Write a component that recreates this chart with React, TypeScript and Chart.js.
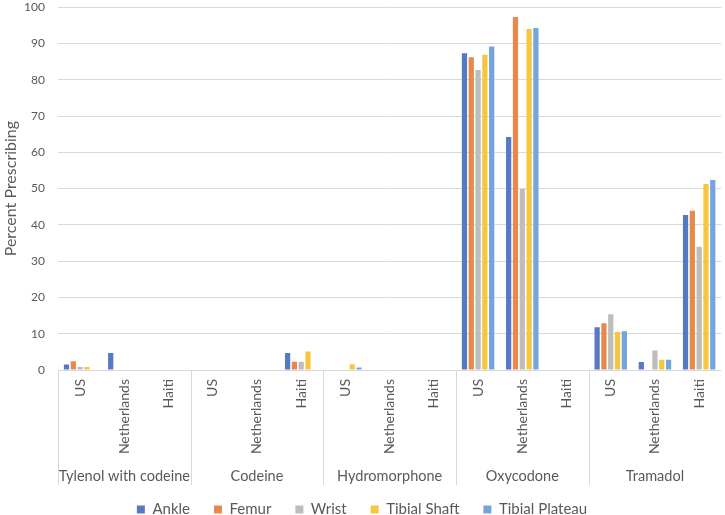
import React, { useEffect, useRef } from "react";
import { Chart, registerables } from "chart.js";

Chart.register(...registerables);

const drugs = ["Tylenol with codeine", "Codeine", "Hydromorphone", "Oxycodone", "Tramadol"];
const countries = ["US", "Netherlands", "Haiti"];
const categories = drugs.flatMap(() => countries);

const seriesNames = ["Ankle", "Femur", "Wrist", "Tibial Shaft", "Tibial Plateau"];
const ankle = [1.5, 4.7, 0, 0, 0, 4.7, 0, 0, 0, 87.3, 64.2, 0, 11.8, 2.2, 42.7];
const femur = [2.4, 0, 0, 0, 0, 2.3, 0, 0, 0, 86.2, 97.3, 0, 12.9, 0, 43.9];
const wrist = [0.8, 0, 0, 0, 0, 2.3, 0, 0, 0, 82.7, 49.9, 0, 15.4, 5.4, 34.0];
const tibialShaft = [0.8, 0, 0, 0, 0, 5.1, 1.6, 0, 0, 86.9, 94.0, 0, 10.5, 2.8, 51.3];
const tibialPlateau = [0, 0, 0, 0, 0, 0, 0.7, 0, 0, 89.2, 94.3, 0, 10.7, 2.8, 52.4];
const seriesValues = [ankle, femur, wrist, tibialShaft, tibialPlateau];
const seriesColors = ["#5679C4", "#E58A4B", "#BDBDBD", "#F6C73E", "#72A5DB"];

const FONT = "Lato, 'Open Sans', sans-serif";
const TEXT = "#595959";
const GRID = "#D9D9D9";

const groupPlugin = {
  id: "groupLabels",
  afterDraw(chart: any) {
    const { ctx, chartArea, scales } = chart;
    const x = scales.x;
    const n = drugs.length;
    const w = (chartArea.right - chartArea.left) / n;
    ctx.save();
    ctx.strokeStyle = GRID;
    ctx.lineWidth = 1;
    for (let i = 0; i < n; i++) {
      const px = Math.round(chartArea.left + i * w) + 0.5;
      ctx.beginPath();
      ctx.moveTo(px, chartArea.bottom);
      ctx.lineTo(px, 485);
      ctx.stroke();
    }
    ctx.fillStyle = TEXT;
    ctx.font = `14.5px ${FONT}`;
    ctx.textAlign = "center";
    ctx.textBaseline = "middle";
    drugs.forEach((d, i) => {
      const cx = (x.getPixelForValue(i * 3) + x.getPixelForValue(i * 3 + 2)) / 2;
      ctx.fillText(d, cx, 476);
    });
    ctx.restore();
  },
};

export default function App() {
  const ref = useRef<HTMLCanvasElement | null>(null);
  useEffect(() => {
    if (!ref.current) return;
    const chart = new Chart(ref.current, {
      type: "bar",
      data: {
        labels: categories,
        datasets: seriesNames.map((name, i) => ({
          label: name,
          data: seriesValues[i],
          backgroundColor: seriesColors[i],
          borderWidth: 0,
          categoryPercentage: 0.77,
          barPercentage: 0.77,
        })),
      },
      options: {
        animation: false,
        responsive: true,
        maintainAspectRatio: false,
        layout: { padding: { top: 7, right: 1, left: 0, bottom: 0 } },
        plugins: {
          legend: {
            position: "bottom",
            maxHeight: 37,
            labels: {
              boxWidth: 8,
              boxHeight: 8,
              padding: 24,
              color: TEXT,
              font: { family: FONT, size: 15 },
            },
          },
          tooltip: { enabled: false },
        },
        scales: {
          x: {
            grid: { display: false, drawTicks: false },
            border: { display: false },
            ticks: {
              autoSkip: false,
              minRotation: 90,
              maxRotation: 90,
              padding: 9,
              color: TEXT,
              font: { family: FONT, size: 14 },
            },
            afterFit(scale: any) {
              scale.height = 108;
            },
          },
          y: {
            min: 0,
            max: 100,
            ticks: {
              stepSize: 10,
              padding: 0,
              color: TEXT,
              font: { family: FONT, size: 12 },
            },
            grid: { color: GRID, drawTicks: true, tickLength: 13, tickColor: "rgba(0,0,0,0)" },
            border: { display: false },
            title: {
              display: true,
              text: "Percent Prescribing",
              color: TEXT,
              font: { family: FONT, size: 16 },
              padding: { top: 1, bottom: 0 },
            },
            afterFit(scale: any) {
              scale.width = 58;
            },
          },
        },
      },
      plugins: [groupPlugin],
    });
    return () => chart.destroy();
  }, []);
  return (
    <div style={{ position: "fixed", left: 0, top: 0, width: 725, height: 515, background: "#fff" }}>
      <canvas ref={ref} />
    </div>
  );
}
